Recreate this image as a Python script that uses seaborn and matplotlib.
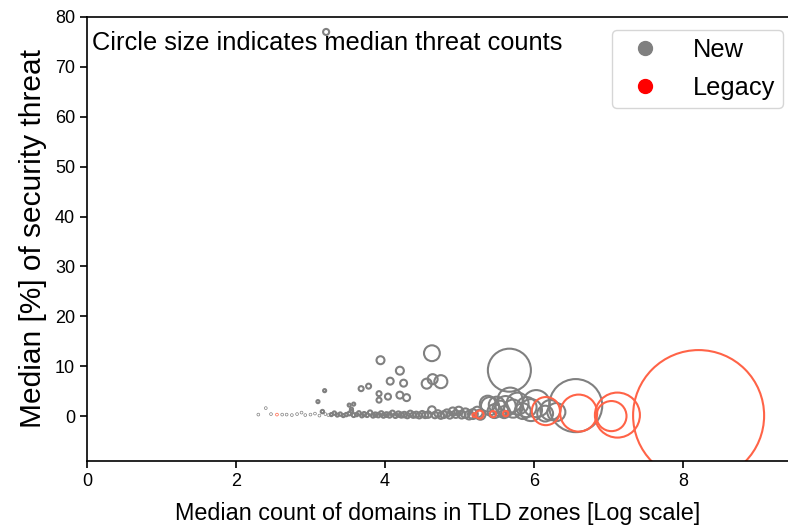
import matplotlib
matplotlib.use("Agg")
import matplotlib.pyplot as plt
from matplotlib.lines import Line2D
import seaborn as sns
import pandas as pd

# ---- data: (log median domain count, median % threat, median threat count) ----
new_x = [2.30, 2.40, 2.47, 2.62, 2.68, 2.75, 2.82, 2.88, 2.93, 3.00, 3.06, 3.12, 3.16, 3.20,
         3.24, 3.28, 3.32, 3.36, 3.40, 3.44, 3.48, 3.52, 3.55, 3.58, 3.62, 3.65, 3.69, 3.72,
         3.76, 3.80, 3.84, 3.87, 3.91, 3.95, 3.98, 4.02, 4.06, 4.10, 4.14, 4.18, 4.22, 4.26,
         4.30, 4.34, 4.38, 4.42, 4.46, 4.50, 4.54, 4.58, 4.63, 4.67, 4.71, 4.75, 4.79, 4.83,
         4.87, 4.91, 4.95, 4.99, 5.03, 5.08, 5.13, 5.18, 5.24, 5.28,
         3.10, 3.19, 3.52, 3.58, 3.55, 3.68, 3.78, 3.92, 3.92, 4.04, 4.20, 4.29, 4.07, 4.25,
         3.94, 4.20, 4.63, 4.56, 4.64, 4.75, 3.21,
         5.38, 5.41, 5.47, 5.50, 5.55, 5.60, 5.62, 5.68, 5.67, 5.72, 5.78, 5.85, 5.90, 5.96,
         6.03, 6.15, 6.22, 6.30, 6.56]
new_y = [0.3, 1.6, 0.4, 0.3, 0.3, 0.2, 0.4, 0.7, 0.2, 0.3, 0.5, 0.1, 0.9, 0.4,
         0.2, 0.3, 0.6, 0.2, 0.4, 0.1, 0.3, 0.5, 1.0, 0.2, 0.3, 0.6, 0.1, 0.4,
         0.2, 0.7, 0.1, 0.3, 0.2, 0.5, 0.1, 0.3, 0.2, 0.6, 0.1, 0.4, 0.2, 0.3,
         0.1, 0.5, 0.2, 0.3, 0.1, 0.4, 0.2, 0.3, 1.2, 0.2, 0.5, 0.1, 0.3, 0.6,
         0.2, 0.9, 0.4, 1.0, 0.3, 0.6, 0.2, 0.4, 0.8, 0.3,
         2.9, 5.1, 2.2, 2.4, 1.4, 5.5, 6.0, 4.5, 3.2, 3.9, 4.2, 3.7, 7.0, 6.6,
         11.2, 9.1, 12.6, 6.5, 7.4, 6.9, 77.0,
         2.5, 2.0, 1.0, 2.3, 1.5, 0.8, 2.0, 3.2, 9.2, 1.5, 2.5, 1.0, 1.8, 1.2,
         2.5, 0.5, 1.2, 0.8, 2.1]
new_threat = [4, 4, 4, 4, 4, 4, 4, 4, 4, 4, 4, 4, 6, 4,
              4, 5, 6, 5, 6, 5, 6, 7, 6, 8, 6, 8, 7, 9,
              8, 10, 9, 10, 11, 12, 10, 12, 14, 13, 12, 15, 14, 16,
              15, 18, 16, 18, 17, 20, 19, 22, 30, 21, 24, 22, 25, 28,
              26, 35, 30, 40, 32, 45, 40, 50, 60, 55,
              5, 5, 5, 5, 5, 13, 13, 13, 13, 19, 25, 25, 25, 25,
              33, 33, 130, 52, 52, 88, 19,
              130, 170, 100, 130, 130, 75, 210, 325, 960, 170, 250, 130, 210, 250,
              380, 130, 210, 170, 1460]

legacy_x = [2.55, 5.20, 5.27, 5.45, 5.62, 6.16, 6.60, 7.04, 7.12, 8.21]
legacy_y = [0.3, 0.2, 0.3, 0.4, 0.5, 1.0, 0.6, 0.0, 0.2, 0.1]
legacy_threat = [4, 8, 33, 20, 15, 410, 710, 470, 1050, 8900]

df = pd.DataFrame({
    "x": new_x + legacy_x,
    "y": new_y + legacy_y,
    "threat": new_threat + legacy_threat,
    "type": ["New"] * len(new_x) + ["Legacy"] * len(legacy_x),
})

plt.rcParams["font.family"] = ["Liberation Sans", "DejaVu Sans"]
fig = plt.figure(figsize=(7.88, 5.26), dpi=100)
ax = fig.add_axes([0.1104, 0.1236, 0.8896, 0.8441])

tmin, tmax = df["threat"].min(), df["threat"].max()
sns.scatterplot(data=df, x="x", y="y", hue="type", size="threat",
                palette={"New": "#808080", "Legacy": "#FF6347"},
                sizes=(tmin, tmax), size_norm=(tmin, tmax),
                linewidth=1.5, legend=False, ax=ax)
pts = ax.collections[0]
fc = pts.get_facecolors()
pts.set_edgecolors(fc)
pts.set_facecolors("none")
# hair-thin rings for the tiniest zones (as in the original)
pts.set_linewidths([0.5 if t <= 4 else 1.5 for t in df["threat"]])

ax.set_xlim(0, 9.41)
ax.set_ylim(-9, 80)
ax.set_xticks([0, 2, 4, 6, 8])
ax.set_yticks(range(0, 81, 10))
ax.tick_params(labelsize=13, length=5, width=1.2)
for s in ["left", "bottom", "top"]:
    ax.spines[s].set_linewidth(1.2)
ax.spines["right"].set_visible(False)

ax.set_xlabel("Median count of domains in TLD zones [Log scale]", fontsize=16.8, labelpad=9)
ax.set_ylabel("Median [%] of security threat", fontsize=21.5, labelpad=6)

ax.text(0.007, 0.942, "Circle size indicates median threat counts",
        transform=ax.transAxes, fontsize=18.3, va="center", ha="left")

handles = [Line2D([], [], marker="o", linestyle="", color="#808080", markersize=10),
           Line2D([], [], marker="o", linestyle="", color="red", markersize=10)]
ax.legend(handles, ["New", "Legacy"], loc="upper right", bbox_to_anchor=(1.004, 0.988),
          fontsize=18.3, frameon=True, borderpad=0.3, handletextpad=0.9, labelspacing=0.58,
          borderaxespad=0.3)

fig.savefig("out.png", dpi=100)
